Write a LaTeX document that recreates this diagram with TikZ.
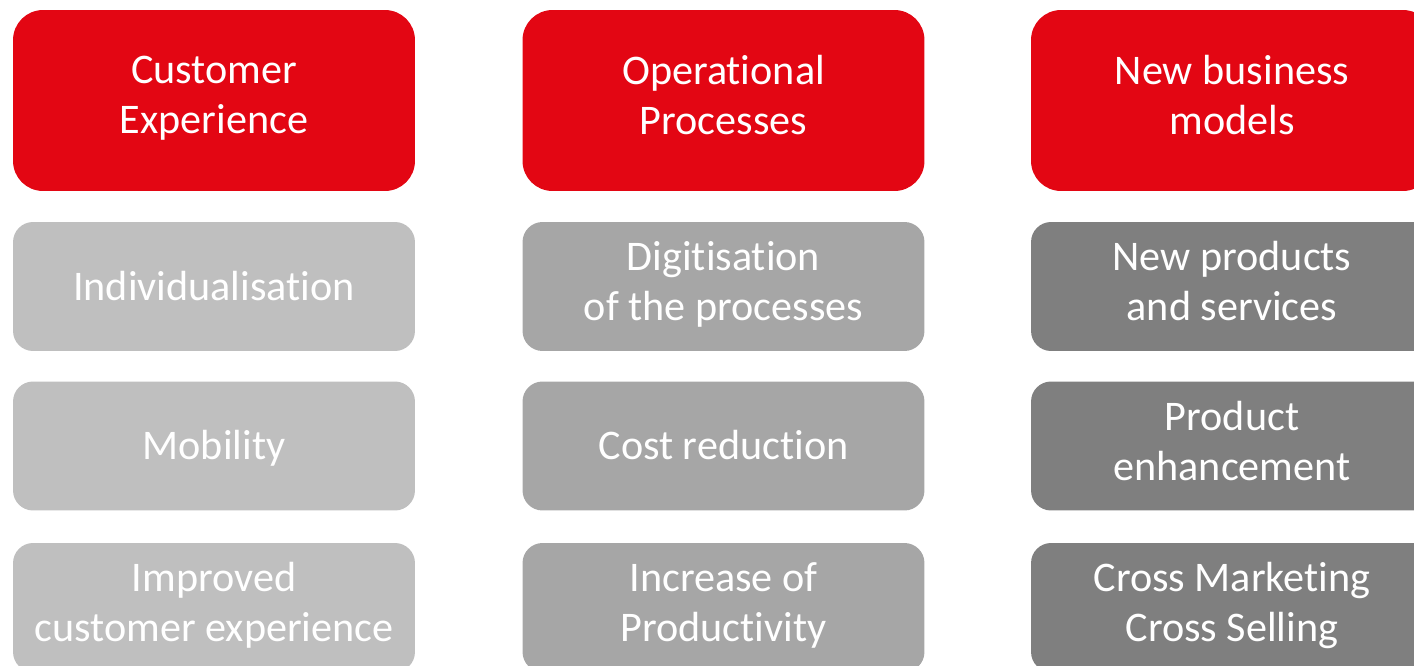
\documentclass[tikz,border=0pt]{standalone}
\usepackage{fontspec}
\setmainfont{Carlito}[Ligatures={NoCommon,NoContextual}]
\usepackage{tikz}
\usetikzlibrary{positioning}

\definecolor{headred}{HTML}{E30613}
\definecolor{greyA}{HTML}{BFBFBF}
\definecolor{greyB}{HTML}{A6A6A6}
\definecolor{greyC}{HTML}{7F7F7F}

% line strut, baseline placed low like a slide text box
\newcommand\boxstrut{\rule[-6.3pt]{0pt}{28.5pt}}

\begin{document}
\begin{tikzpicture}[
  x=0.02cm, y=-0.02cm,
  head/.style={rectangle, fill=headred, rounded corners=0.6cm, minimum width=8.04cm, minimum height=3.62cm, inner sep=0pt, text=white, font=\fontsize{24}{28.5}\selectfont, align=center, execute at begin node=\boxstrut, execute at end node=\boxstrut},
  item/.style={rectangle, rounded corners=0.4cm, minimum width=8.04cm, minimum height=2.58cm, inner sep=0pt, text=white, font=\fontsize{24}{28.5}\selectfont, align=center, execute at begin node=\boxstrut, execute at end node=\boxstrut},
]
\useasboundingbox (0,0) rectangle (1414,666);
\clip (0,0) rectangle (1414,666);

% column headers
\node[head] (cust) at (214,100.5)  {Customer\\Experience};
\node[head] (oper) at (723.5,100.5) {Operational\\Processes};
\node[head] (biz)  at (1232,100.5) {New business\\models};

% customer column
\node[item, fill=greyA] (indiv) at (214,286.5) {Individualisation};
\node[item, fill=greyA] (mobil) at (214,446)   {Mobility};
\node[item, fill=greyA] (impr)  at (214,607.5) {Improved\\customer experience};

% operations column
\node[item, fill=greyB] (digit) at (723.5,286.5) {Digitisation\\of the processes};
\node[item, fill=greyB] (cost)  at (723.5,446)   {Cost reduction};
\node[item, fill=greyB] (prod)  at (723.5,607.5) {Increase of\\Productivity};

% business column
\node[item, fill=greyC] (newps) at (1232,286.5) {New products\\and services};
\node[item, fill=greyC] (enh)   at (1232,446)   {Product\\enhancement};
\node[item, fill=greyC] (cross) at (1232,607.5) {Cross Marketing\\Cross Selling};
\end{tikzpicture}
\end{document}
